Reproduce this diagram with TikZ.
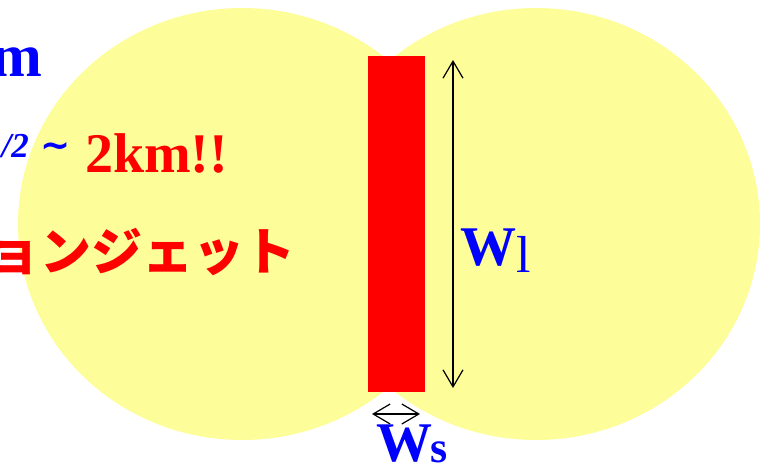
\documentclass[tikz,border=0pt]{standalone}
\usepackage{fontspec}
\setmainfont{Liberation Serif}
\newfontfamily\jpfont{Noto Sans CJK JP}
\newfontfamily\symfont{DejaVu Sans}
\usepackage{xcolor}
\usetikzlibrary{arrows.meta, positioning}
\definecolor{lobeyellow}{RGB}{253,253,153}
\newcommand{\fsz}[1]{\fontsize{#1}{#1}\selectfont}

\begin{document}
\begin{tikzpicture}[
    x=1pt, y=-1pt,
    lobe/.style={fill=lobeyellow},
    wall/.style={rectangle, fill=red, inner sep=0pt, minimum width=57pt, minimum height=336pt},
    bigtxt/.style={inner sep=0pt, text=blue, font=\bfseries\fsz{56}},
    dim/.style={{Straight Barb[length=17pt,width=20pt]}-{Straight Barb[length=17pt,width=20pt]}, line width=1.2pt},
]
    \useasboundingbox (0,0) rectangle (763,467);
    \clip (0,0) rectangle (763,467);

    % Two lobes
    \fill[lobe] (242,224) ellipse [x radius=224pt, y radius=216pt];
    \fill[lobe] (536,224) ellipse [x radius=224pt, y radius=216pt];

    % Sheet
    \node[wall] (wall) at (396.5,224) {};

    % Dimensions
    \coordinate (ltop) at (453,60);
    \coordinate (lbot) at (453,388);
    \draw[dim] (ltop) -- (lbot);
    \coordinate (sleft) at (372,414);
    \coordinate (sright) at (420,414);
    \draw[dim] (sleft) -- (sright);

    \node[bigtxt, anchor=base west] (wl) at (460,265) {W};
    \node[inner sep=0pt, text=blue, font=\fsz{52}, anchor=base west] (wlsub) at (516,272) {l};
    \node[bigtxt, anchor=base west] (ws) at (376,461) {W};
    \node[bigtxt, font=\bfseries\fsz{44}, anchor=base west] (wssub) at (430,462) {s};

    % Text on the left
    \node[bigtxt, font=\bfseries\fsz{61}, anchor=base east] (unit) at (43,76) {m};
    \node[bigtxt, font=\bfseries\itshape\fsz{35}, anchor=base east] (expo) at (29,157) {/2};
    \node[bigtxt, font=\symfont\bfseries\fsz{36}] (tilde) at (56,150) {∼};
    \node[bigtxt, text=red, anchor=base west] (dist) at (85,172) {2km!!};
    \node[inner sep=0pt, text=red, font=\jpfont\bfseries\fsz{51}, anchor=base east] (jet) at (296,270) {ョンジェット};
\end{tikzpicture}
\end{document}
